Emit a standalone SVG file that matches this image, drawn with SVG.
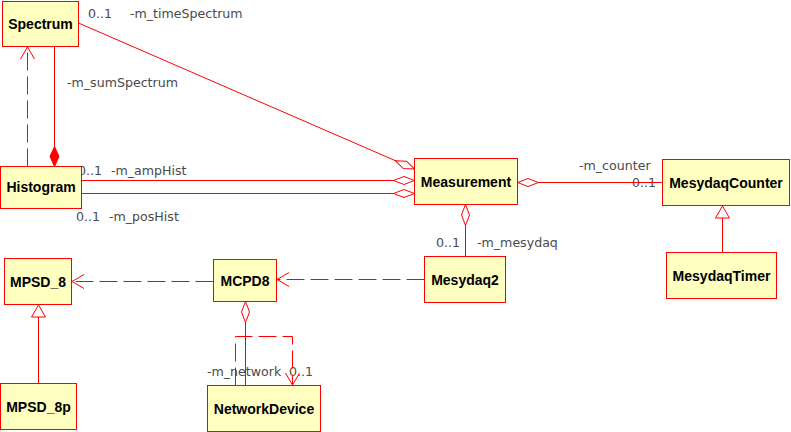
<svg xmlns="http://www.w3.org/2000/svg" width="791" height="432" viewBox="0 0 791 432">
<style>
.node rect{fill:#ffffc0;stroke:#ff0000;stroke-width:1}
.node text{font-family:"Liberation Sans",Arial,sans-serif;font-size:14px;font-weight:bold;fill:#000;text-anchor:middle}
.conn path{fill:none;stroke:#ff0000;stroke-width:1}
.dash{stroke-dasharray:18,6}
.lbl{font-family:"DejaVu Sans",sans-serif;font-size:12.6px;fill:#4a4a4a}
</style>
<defs>
<marker id="odia" markerUnits="userSpaceOnUse" viewBox="-1 -6 24 12" refX="21" refY="0" markerWidth="24" markerHeight="12" orient="auto" overflow="visible">
<path d="M0,0 L10.5,-4 L21,0 L10.5,4 Z" fill="#fff" stroke="#ff0000" stroke-width="1"/>
</marker>
<marker id="fdia" markerUnits="userSpaceOnUse" viewBox="-1 -6 24 12" refX="20" refY="0" markerWidth="24" markerHeight="12" orient="auto" overflow="visible">
<path d="M0,0 L10,-4.5 L20,0 L10,4.5 Z" fill="#ff0000" stroke="#ff0000" stroke-width="1"/>
</marker>
<marker id="arr" markerUnits="userSpaceOnUse" viewBox="-14 -8 16 16" refX="0" refY="0" markerWidth="16" markerHeight="16" orient="auto" overflow="visible">
<path d="M-12,-7 L0,0 L-12,7" fill="none" stroke="#ff0000" stroke-width="1"/>
</marker>
<marker id="tri" markerUnits="userSpaceOnUse" viewBox="-14 -8 16 16" refX="0" refY="0" markerWidth="16" markerHeight="16" orient="auto" overflow="visible">
<path d="M0,0 L-12,-7 L-12,7 Z" fill="#fff" stroke="#ff0000" stroke-width="1"/>
</marker>
</defs>
<rect width="791" height="432" fill="#fff"/>
<g id="labels">
<text class="lbl" x="88" y="18">0..1</text>
<text class="lbl" x="130" y="18">-m_timeSpectrum</text>
<text class="lbl" x="67" y="87">-m_sumSpectrum</text>
<text class="lbl" x="78" y="175">0..1</text>
<text class="lbl" x="111" y="175">-m_ampHist</text>
<text class="lbl" x="76" y="221">0..1</text>
<text class="lbl" x="109" y="221">-m_posHist</text>
<text class="lbl" x="579" y="170">-m_counter</text>
<text class="lbl" x="632" y="187">0..1</text>
<text class="lbl" x="436" y="247">0..1</text>
<text class="lbl" x="477" y="247">-m_mesydaq</text>
<text class="lbl" x="207" y="376">-m_network</text>
<text class="lbl" x="289" y="376">0..1</text>
</g>
<g id="connectors" class="conn">
<path d="M78.5,23 L414.5,169" marker-end="url(#odia)"/>
<path d="M81.5,180.5 L414.5,180.5" marker-end="url(#odia)"/>
<path d="M81.5,193.5 L414.5,193.5" marker-end="url(#odia)"/>
<path d="M662.5,182.5 L517.5,182.5" marker-end="url(#odia)"/>
<path d="M465.5,256.5 L465.5,204.5" marker-end="url(#odia)"/>
<path d="M54.5,46.5 L54.5,166.5" marker-end="url(#fdia)"/>
<path class="dash" d="M27.5,166.5 L27.5,47" marker-end="url(#arr)"/>
<path class="dash" d="M424.5,279.5 L277,279.5" marker-end="url(#arr)"/>
<path class="dash" d="M213.5,281.5 L72,281.5" marker-end="url(#arr)"/>
<path d="M38.5,383.5 L38.5,305" marker-end="url(#tri)"/>
<path d="M722.5,252.5 L722.5,206" marker-end="url(#tri)"/>
<path d="M245.5,385.5 L245.5,301.5" marker-end="url(#odia)"/>
<path class="dash" d="M235.5,385.5 L235.5,336.5 L292.5,336.5 L292.5,385" marker-end="url(#arr)"/>
</g>
<g id="Spectrum" class="node"><rect x="2.5" y="1.5" width="76" height="45"/><text x="40.5" y="29">Spectrum</text></g>
<g id="Histogram" class="node"><rect x="0.5" y="166.5" width="81" height="42"/><text x="41" y="192">Histogram</text></g>
<g id="Measurement" class="node"><rect x="414.5" y="158.5" width="103" height="46"/><text x="466" y="187">Measurement</text></g>
<g id="MesydaqCounter" class="node"><rect x="662.5" y="159.5" width="127" height="46"/><text x="726" y="188">MesydaqCounter</text></g>
<g id="MesydaqTimer" class="node"><rect x="666.5" y="252.5" width="110" height="46"/><text x="721.5" y="281">MesydaqTimer</text></g>
<g id="MPSD_8" class="node"><rect x="4.5" y="258.5" width="67" height="46"/><text x="38" y="287">MPSD_8</text></g>
<g id="MCPD8" class="node"><rect x="213.5" y="259.5" width="63" height="42"/><text x="245" y="286">MCPD8</text></g>
<g id="Mesydaq2" class="node"><rect x="424.5" y="256.5" width="81" height="46"/><text x="465" y="285">Mesydaq2</text></g>
<g id="MPSD_8p" class="node"><rect x="0.5" y="383.5" width="76" height="46"/><text x="38.5" y="412">MPSD_8p</text></g>
<g id="NetworkDevice" class="node"><rect x="207.5" y="385.5" width="113" height="46"/><text x="264" y="414">NetworkDevice</text></g>
</svg>
